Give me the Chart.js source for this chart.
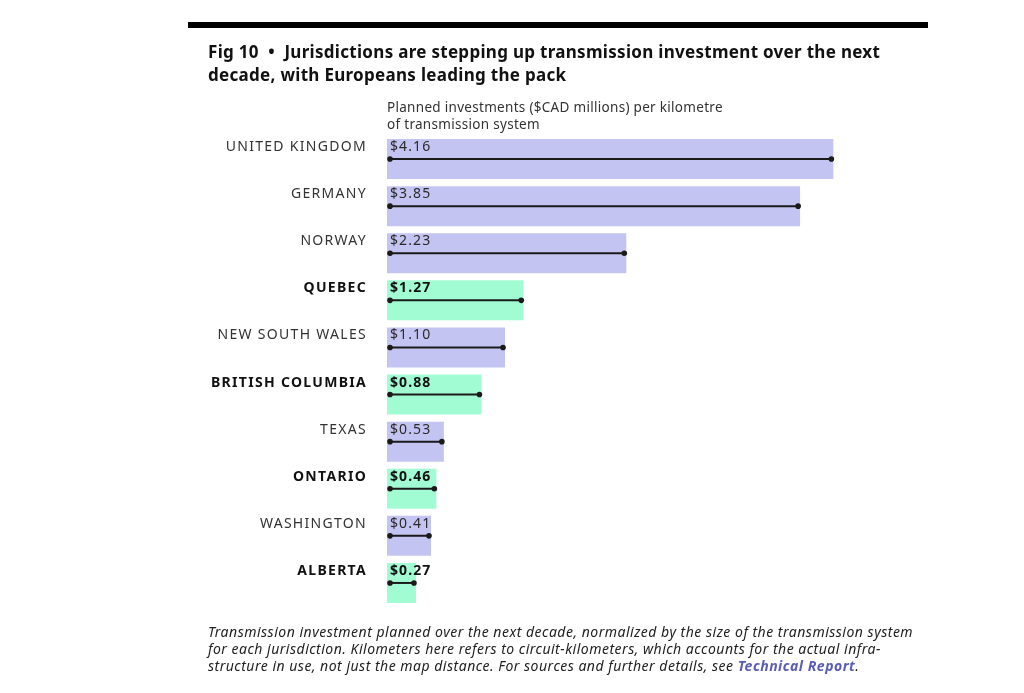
<!DOCTYPE html>
<html>
<head>
<meta charset="utf-8">
<script src="https://cdn.jsdelivr.net/npm/chart.js@4"></script>
<style>
  html, body { margin:0; padding:0; background:#fff; }
  body { width:1024px; height:693px; position:relative; overflow:hidden; font-family:"Noto Sans", sans-serif; }
  #rule { position:absolute; left:188px; top:22px; width:740px; height:6px; background:#000; }
  #title { position:absolute; left:208px; top:40px; font-weight:700; font-size:17px; letter-spacing:0.3px; line-height:23px; color:#111; white-space:nowrap; }
  #subtitle { position:absolute; left:387px; top:99px; font-size:13.5px; letter-spacing:0.3px; line-height:17px; color:#333; white-space:nowrap; }
  #note { position:absolute; left:208px; top:623px; font-style:italic; font-size:14px; letter-spacing:0.5px; line-height:17px; color:#222; white-space:nowrap; }
  #note b { color:#5a5db5; }
  #wrap { position:absolute; left:0; top:0; width:1024px; height:693px; }
</style>
</head>
<body>
<div id="wrap"><canvas id="chart"></canvas></div>
<div id="rule"></div>
<div id="title">Fig 10 &nbsp;•&nbsp; Jurisdictions are stepping up transmission investment over the next<br>decade, with Europeans leading the pack</div>
<div id="subtitle">Planned investments ($CAD millions) per kilometre<br>of transmission system</div>
<div id="note">Transmission investment planned over the next decade, normalized by the size of the transmission system<br>for each jurisdiction. Kilometers here refers to circuit-kilometers, which accounts for the actual infra-<br>structure in use, not just the map distance. For sources and further details, see <b>Technical Report</b>.</div>
<script>
/* ── data ── */
var jurisdictions = ['UNITED KINGDOM', 'GERMANY', 'NORWAY', 'QUEBEC', 'NEW SOUTH WALES',
  'BRITISH COLUMBIA', 'TEXAS', 'ONTARIO', 'WASHINGTON', 'ALBERTA'];
var investment = [4.16, 3.85, 2.23, 1.27, 1.10, 0.88, 0.53, 0.46, 0.41, 0.27];
var canadian = [false, false, false, true, false, true, false, true, false, true];

var COL_OTHER = '#c4c4f2';
var COL_CANADA = '#a2fcd3';

// wider letter spacing to get closer to the original wide typeface
var spacing = {
  id: 'spacing',
  beforeDraw: function(chart){ chart.ctx.letterSpacing = '1.3px'; },
  afterDraw: function(chart){ chart.ctx.letterSpacing = '0px'; }
};

// value label + dumbbell line drawn on each bar
var barDecor = {
  id: 'barDecor',
  afterDatasetsDraw: function(chart){
    var ctx = chart.ctx;
    var xs = chart.scales.x;
    var meta = chart.getDatasetMeta(0);
    meta.data.forEach(function(bar, i){
      var v = investment[i];
      var top = bar.y - bar.height / 2;
      var x0 = xs.getPixelForValue(0) + 3;
      var x1 = xs.getPixelForValue(v) - 2;
      ctx.save();
      ctx.strokeStyle = '#1a1a1a';
      ctx.fillStyle = '#1a1a1a';
      ctx.lineWidth = 2;
      ctx.beginPath();
      ctx.moveTo(x0, bar.y);
      ctx.lineTo(x1, bar.y);
      ctx.stroke();
      [x0, x1].forEach(function(px){
        ctx.beginPath();
        ctx.arc(px, bar.y, 2.8, 0, Math.PI * 2);
        ctx.fill();
      });
      ctx.letterSpacing = '1.1px';
      ctx.font = (canadian[i] ? '700 ' : '400 ') + '14px "Noto Sans"';
      ctx.fillStyle = canadian[i] ? '#111' : '#2a2a2a';
      ctx.textAlign = 'left';
      ctx.textBaseline = 'middle';
      ctx.fillText('$' + v.toFixed(2), xs.getPixelForValue(0) + 3, top + 8);
      ctx.restore();
    });
  }
};

new Chart(document.getElementById('chart'), {
  type: 'bar',
  data: {
    labels: jurisdictions,
    datasets: [{
      data: investment,
      backgroundColor: canadian.map(function(c){ return c ? COL_CANADA : COL_OTHER; }),
      borderWidth: 0,
      categoryPercentage: 1,
      barPercentage: 0.85
    }]
  },
  options: {
    indexAxis: 'y',
    responsive: true,
    maintainAspectRatio: false,
    animation: false,
    layout: { padding: { top: 135.5, bottom: 86.5, right: 100.5, left: 0 } },
    plugins: { legend: { display: false }, tooltip: { enabled: false } },
    scales: {
      x: { display: false, min: 0, max: 5 },
      y: {
        grid: { display: false, drawTicks: false },
        border: { display: false },
        afterFit: function(scale){ scale.width = 387; },
        ticks: {
          padding: 20,
          labelOffset: -12,
          color: function(ctx){ return canadian[ctx.index] ? '#111' : '#333'; },
          font: function(ctx){
            return { family: '"Noto Sans"', size: 14, weight: canadian[ctx.index] ? '700' : '400' };
          }
        }
      }
    }
  },
  plugins: [spacing, barDecor]
});
</script>
</body>
</html>
